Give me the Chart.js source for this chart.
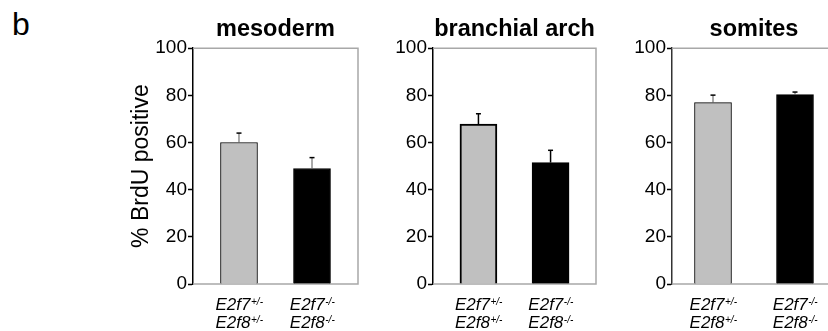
<!DOCTYPE html>
<html>
<head>
<meta charset="utf-8">
<script src="https://cdn.jsdelivr.net/npm/chart.js@4.4.1/dist/chart.umd.min.js"></script>
<style>
  html, body { margin: 0; padding: 0; background: #fff; overflow: hidden; }
  body { width: 828px; height: 331px; position: relative; }
  canvas { position: absolute; top: 0; }
  #tag { position: absolute; left: 12px; top: 8px; font: 32px/32px "Liberation Sans", Arial, sans-serif; color: #000; }
</style>
</head>
<body>
<div id="tag">b</div>
<canvas id="c0" width="260" height="331" style="left:110px"></canvas>
<canvas id="c1" width="225" height="331" style="left:380px"></canvas>
<canvas id="c2" width="220" height="331" style="left:620px"></canvas>
<script>
const tissues = ["mesoderm", "branchial arch", "somites"];
const genes = ["E2f7", "E2f8"];
const alleles = ["+/-", "-/-"];
const hetValues = [60, 67.8, 76.9];
const hetErrors = [4, 4.4, 3.2];
const nullValues = [49, 51.5, 80.3];
const nullErrors = [4.6, 5.2, 1.1];
const yTicks = [0, 20, 40, 60, 80, 100];

const FONT = '"Liberation Sans", Arial, sans-serif';

// layout of each panel (page is cut at the right, like the figure)
const axisWidth = [83, 53, 52];
const padRight = [12, 9, 4];
const xRange = [[-0.63, 1.63], [-0.63, 1.63], [-0.5, 1.5]];
const grayBorder = [1, 2, 1];
const errStyle = [
    { color: "#555", width: 1 },
    { color: "#000", width: 1.5 },
    { color: "#555", width: 1 },
];

const frame = {
    id: "frame",
    beforeDatasetsDraw(chart) {
        const { ctx, chartArea: a } = chart;
        ctx.save();
        ctx.strokeStyle = "#a8a8a8";
        ctx.lineWidth = 1.5;
        ctx.beginPath();
        ctx.moveTo(a.left, a.top);
        ctx.lineTo(a.right, a.top);
        ctx.lineTo(a.right, a.bottom);
        ctx.lineTo(a.left, a.bottom);
        ctx.stroke();
        ctx.restore();
    },
};

const errorBars = {
    id: "errorBars",
    afterDatasetsDraw(chart, args, opts) {
        const { ctx } = chart;
        const y = chart.scales.y;
        const bars = chart.getDatasetMeta(0).data;
        ctx.save();
        bars.forEach((bar, i) => {
            const v = chart.data.datasets[0].data[i].y;
            const top = y.getPixelForValue(v + opts.errors[i]);
            ctx.strokeStyle = opts.color;
            ctx.lineWidth = opts.width;
            ctx.beginPath();
            ctx.moveTo(bar.x, bar.y);
            ctx.lineTo(bar.x, top);
            ctx.stroke();
            ctx.strokeStyle = "#000";
            ctx.lineWidth = 1.5;
            ctx.beginPath();
            ctx.moveTo(bar.x - 2.5, top);
            ctx.lineTo(bar.x + 2.5, top);
            ctx.stroke();
        });
        ctx.restore();
    },
};

const genotypeLabels = {
    id: "genotypeLabels",
    afterDraw(chart) {
        const { ctx, chartArea: a } = chart;
        const x = chart.scales.x;
        ctx.save();
        ctx.fillStyle = "#000";
        ctx.textBaseline = "alphabetic";
        ctx.textAlign = "left";
        alleles.forEach((al, i) => {
            const cx = x.getPixelForValue(i);
            genes.forEach((g, j) => {
                const base = a.bottom + 26 + j * 18;
                ctx.font = "italic 17px " + FONT;
                const w1 = ctx.measureText(g).width;
                ctx.font = "italic 10px " + FONT;
                const w2 = ctx.measureText(al).width;
                const left = cx - (w1 + w2) / 2;
                ctx.font = "italic 17px " + FONT;
                ctx.fillText(g, left, base);
                ctx.font = "italic 10px " + FONT;
                ctx.fillText(al, left + w1 + 0.5, base - 5);
            });
        });
        ctx.restore();
    },
};

tissues.forEach((name, p) => {
    const ctx = document.getElementById("c" + p).getContext("2d");
    new Chart(ctx, {
        type: "bar",
        data: {
            datasets: [
                {
                    data: [
                        { x: 0, y: hetValues[p] },
                        { x: 1, y: nullValues[p] },
                    ],
                    backgroundColor: ["#c0c0c0", "#000"],
                    borderColor: ["#000", "#000"],
                    borderWidth: [grayBorder[p], 1],
                    barThickness: 37,
                },
            ],
        },
        options: {
            responsive: false,
            animation: false,
            layout: {
                padding: { top: 0, right: padRight[p], bottom: 47, left: 0 },
            },
            scales: {
                x: {
                    type: "linear",
                    display: false,
                    offset: false,
                    min: xRange[p][0],
                    max: xRange[p][1],
                },
                y: {
                    min: 0,
                    max: 100,
                    afterBuildTicks: (s) => {
                        s.ticks = yTicks.map((v) => ({ value: v }));
                    },
                    afterFit: (s) => {
                        s.width = axisWidth[p];
                    },
                    border: { color: p === 2 ? "#333" : "#000", width: 1.5 },
                    grid: {
                        drawOnChartArea: false,
                        tickLength: 5,
                        color: "#000",
                        tickWidth: 1.5,
                    },
                    ticks: {
                        color: "#000",
                        padding: 1,
                        font: { family: FONT, size: 19 },
                    },
                    title: {
                        display: p === 0,
                        text: "% BrdU positive",
                        color: "#000",
                        padding: { top: 18, bottom: 0 },
                        font: { family: FONT, size: 23 },
                    },
                },
            },
            plugins: {
                legend: { display: false },
                tooltip: { enabled: false },
                title: {
                    display: true,
                    text: name,
                    fullSize: false,
                    color: "#000",
                    padding: { top: 15, bottom: 5 },
                    font: { family: FONT, size: 23.5, weight: "bold" },
                },
                errorBars: {
                    errors: [hetErrors[p], nullErrors[p]],
                    color: errStyle[p].color,
                    width: errStyle[p].width,
                },
            },
        },
        plugins: [frame, errorBars, genotypeLabels],
    });
});
</script>
</body>
</html>
